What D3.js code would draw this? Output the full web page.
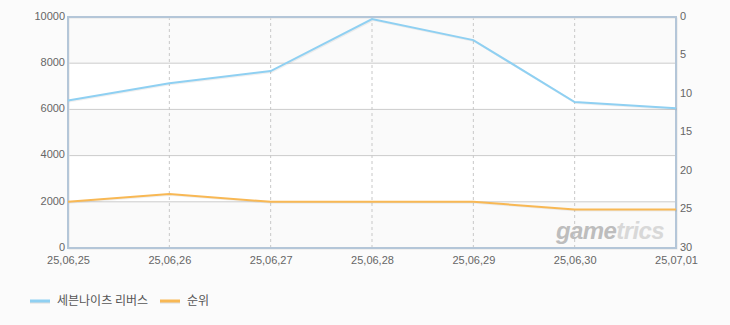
<!DOCTYPE html>
<html>
<head>
<meta charset="utf-8">
<script src="https://cdn.jsdelivr.net/npm/d3@7"></script>
<style>
  body { margin: 0; background: #fbfbfb; }
  svg { display: block; font-family: "Liberation Sans", "Noto Sans CJK KR", sans-serif; }
  .tick text { fill: #666; font-size: 11px; }
</style>
</head>
<body>
<svg width="730" height="325"></svg>
<script>
const dates = ["25,06,25", "25,06,26", "25,06,27", "25,06,28", "25,06,29", "25,06,30", "25,07,01"];
const users = [6390, 7130, 7660, 9910, 9000, 6320, 6050];
const rank = [24, 23, 24, 24, 24, 25, 25];
const leftTicks = [0, 2000, 4000, 6000, 8000, 10000];
const rightTicks = [0, 5, 10, 15, 20, 25, 30];
const seriesNames = ["세븐나이츠 리버스", "순위"];
const colors = ["#8fd0f2", "#f8b854"];

const plotLeft = 68, plotRight = 676, plotTop = 17, plotBottom = 248;
const svg = d3.select("svg");

const x = d3.scalePoint().domain(dates).range([plotLeft, plotRight]);
const y = d3.scaleLinear().domain([0, 10000]).range([plotBottom, plotTop]);
const y2 = d3.scaleLinear().domain([0, 30]).range([plotTop, plotBottom]);

// alternating bands
const bands = d3.pairs(leftTicks.slice().reverse());
svg.append("g").selectAll("rect")
  .data(bands)
  .enter()
  .append("rect")
  .attr("x", plotLeft)
  .attr("width", plotRight - plotLeft)
  .attr("y", d => y(d[0]))
  .attr("height", d => y(d[1]) - y(d[0]))
  .attr("fill", (d, i) => i % 2 ? "#ffffff" : "#fafafa");

// horizontal grid
svg.append("g").selectAll("line")
  .data(leftTicks.filter(t => t > 0 && t < 10000))
  .enter()
  .append("line")
  .attr("x1", plotLeft).attr("x2", plotRight)
  .attr("y1", d => y(d)).attr("y2", d => y(d))
  .attr("stroke", "#cccccc");

// vertical dashed grid
svg.append("g").selectAll("line")
  .data(dates.slice(1, -1))
  .enter()
  .append("line")
  .attr("x1", d => x(d)).attr("x2", d => x(d))
  .attr("y1", plotTop).attr("y2", plotBottom)
  .attr("stroke", "#c8c8c8")
  .attr("stroke-dasharray", "3,3");

// watermark
const wm = svg.append("text")
  .attr("x", 556).attr("y", 239)
  .attr("font-size", 24).attr("font-weight", "bold").attr("font-style", "italic")
  .attr("font-family", "Liberation Sans, sans-serif")
  .attr("letter-spacing", -0.6);
wm.append("tspan").attr("fill", "#bdbdbd").text("game");
wm.append("tspan").attr("fill", "#d8d8d8").text("trics");

// frame
svg.append("rect")
  .attr("x", plotLeft + 1).attr("y", plotTop + 1)
  .attr("width", plotRight - plotLeft).attr("height", plotBottom - plotTop)
  .attr("fill", "none").attr("stroke", "#e4e4e4");
svg.append("rect")
  .attr("x", plotLeft).attr("y", plotTop)
  .attr("width", plotRight - plotLeft).attr("height", plotBottom - plotTop)
  .attr("fill", "none").attr("stroke", "#b4c6d8").attr("stroke-width", 2);

// axes
const yAxisG = svg.append("g")
  .attr("transform", "translate(" + (plotLeft - 1) + ",0)")
  .call(d3.axisLeft(y).tickValues(leftTicks).tickFormat(d3.format("d")).tickSize(0).tickPadding(2));
yAxisG.select(".domain").remove();
yAxisG.selectAll("text").attr("dy", "0.2em");

const y2AxisG = svg.append("g")
  .attr("transform", "translate(" + (plotRight + 1) + ",0)")
  .call(d3.axisRight(y2).tickValues(rightTicks).tickSize(0).tickPadding(3));
y2AxisG.select(".domain").remove();
y2AxisG.selectAll("text").attr("dy", "0.2em");

const xAxisG = svg.append("g")
  .attr("transform", "translate(0," + plotBottom + ")")
  .call(d3.axisBottom(x).tickSize(0).tickPadding(8));
xAxisG.select(".domain").remove();

// lines
const lineUsers = d3.line().x((d, i) => x(dates[i])).y(d => y(d));
const lineRank = d3.line().x((d, i) => x(dates[i])).y(d => y2(d));

[[users, lineUsers], [rank, lineRank]].forEach((s, i) => {
  svg.append("path")
    .datum(s[0])
    .attr("d", s[1])
    .attr("fill", "none")
    .attr("stroke", "#000")
    .attr("stroke-opacity", 0.06)
    .attr("stroke-width", 2)
    .attr("transform", "translate(1,1)");
  svg.append("path")
    .datum(s[0])
    .attr("d", s[1])
    .attr("fill", "none")
    .attr("stroke", colors[i])
    .attr("stroke-width", 2);
});

// legend
const legend = svg.append("g").attr("transform", "translate(30,301)");
const legendX = [0, 130];
seriesNames.forEach((name, i) => {
  const g = legend.append("g").attr("transform", "translate(" + legendX[i] + ",0)");
  g.append("line").attr("x1", 0).attr("x2", 20).attr("y1", 1).attr("y2", 1)
    .attr("stroke", "#ddd").attr("stroke-width", 3);
  g.append("line").attr("x1", 0).attr("x2", 20).attr("y1", 0).attr("y2", 0)
    .attr("stroke", colors[i]).attr("stroke-width", 3);
  g.append("text").attr("x", 27).attr("y", 4)
    .attr("font-size", 12).attr("fill", "#555")
    .attr("font-family", "Noto Sans CJK KR, sans-serif")
    .text(name);
});
</script>
</body>
</html>
